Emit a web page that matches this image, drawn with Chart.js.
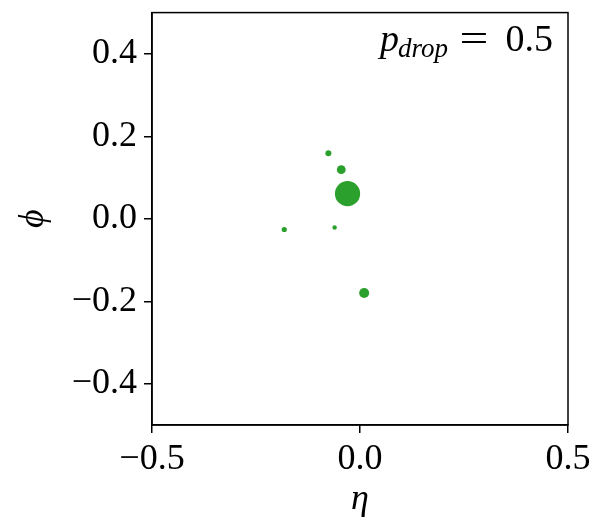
<!DOCTYPE html>
<html>
<head>
<meta charset="utf-8">
<script src="https://cdn.jsdelivr.net/npm/chart.js@4"></script>
<style>
  html, body { margin: 0; padding: 0; background: #fff; }
  #wrap { width: 591px; height: 521px; }
</style>
</head>
<body>
<div id="wrap"><canvas id="scatterChart" width="591" height="521"></canvas></div>
<script>
// values
const etaValues = [-0.076, -0.045, -0.030, -0.182, -0.061, 0.010];
const phiValues = [0.159, 0.119, 0.061, -0.026, -0.021, -0.180];
const markerRadius = [3, 4.4, 12.6, 2.6, 2.2, 5];

const xTicks = [-0.5, 0.0, 0.5];
const yTicks = [-0.4, -0.2, 0.0, 0.2, 0.4];

const SERIF = '"Liberation Serif", "DejaVu Serif", serif';
const GREEN = '#2ca02c';

function fmt(v) {
    return v.toFixed(1).replace('-', '\u2212');
}

// frame round the plot + the p_drop label
const framePlugin = {
    id: 'frame',
    afterDraw(chart) {
        const c = chart.ctx;
        const a = chart.chartArea;
        c.save();
        c.strokeStyle = '#000';
        c.lineWidth = 1.5;
        c.strokeRect(a.left, a.top, a.right - a.left, a.bottom - a.top);

        // p_{drop} = 0.5
        const base = 51;
        c.fillStyle = '#000';
        c.textBaseline = 'alphabetic';
        c.textAlign = 'left';
        c.font = 'italic 38px ' + SERIF;
        c.fillText('p', 380, base);
        c.font = 'italic 27px ' + SERIF;
        c.fillText('drop', 398, base + 6);
        c.font = '38px ' + SERIF;
        c.textAlign = 'right';
        c.fillText('0.5', 553, base);
        // wider equals sign, like the TeX one
        c.save();
        c.translate(474, base);
        c.scale(1.35, 1);
        c.textAlign = 'center';
        c.fillText('=', 0, 0);
        c.restore();
        c.restore();
    }
};

const points = etaValues.map((e, i) => ({ x: e, y: phiValues[i], r: markerRadius[i] }));

new Chart(document.getElementById('scatterChart').getContext('2d'), {
    type: 'bubble',
    data: {
        datasets: [{
            data: points,
            backgroundColor: GREEN,
            borderWidth: 0,
            hoverRadius: 0
        }]
    },
    options: {
        responsive: false,
        animation: false,
        layout: { padding: { top: 11, right: 23, left: 0, bottom: 0 } },
        plugins: {
            legend: { display: false },
            tooltip: { enabled: false }
        },
        scales: {
            x: {
                type: 'linear',
                min: -0.5,
                max: 0.5,
                afterBuildTicks: axis => { axis.ticks = xTicks.map(v => ({ value: v })); },
                afterFit: axis => {
                    axis.height = 96;
                    axis.paddingLeft = 0;
                    axis.paddingRight = 0;
                },
                grid: { drawOnChartArea: false, drawTicks: true, tickLength: 8, color: '#000', lineWidth: 1.5 },
                border: { display: true, color: '#000', width: 1.5 },
                ticks: {
                    color: '#000',
                    padding: 5,
                    maxRotation: 0,
                    font: { family: SERIF, size: 36 },
                    callback: v => fmt(v)
                },
                title: {
                    display: true,
                    text: '\u03B7',
                    color: '#000',
                    padding: { top: 0, bottom: 0 },
                    font: { family: SERIF, size: 36, style: 'italic' }
                }
            },
            y: {
                type: 'linear',
                min: -0.5,
                max: 0.5,
                afterBuildTicks: axis => { axis.ticks = yTicks.map(v => ({ value: v })); },
                afterFit: axis => {
                    axis.width = 152;
                    axis.paddingTop = 0;
                    axis.paddingBottom = 0;
                },
                grid: { drawOnChartArea: false, drawTicks: true, tickLength: 8, color: '#000', lineWidth: 1.5 },
                border: { display: true, color: '#000', width: 1.5 },
                ticks: {
                    color: '#000',
                    padding: 7,
                    font: { family: SERIF, size: 36 },
                    callback: v => fmt(v)
                },
                title: {
                    display: true,
                    text: '\u03D5',
                    color: '#000',
                    padding: { top: 12, bottom: 0 },
                    font: { family: SERIF, size: 36, style: 'italic' }
                }
            }
        }
    },
    plugins: [framePlugin]
});
</script>
</body>
</html>
